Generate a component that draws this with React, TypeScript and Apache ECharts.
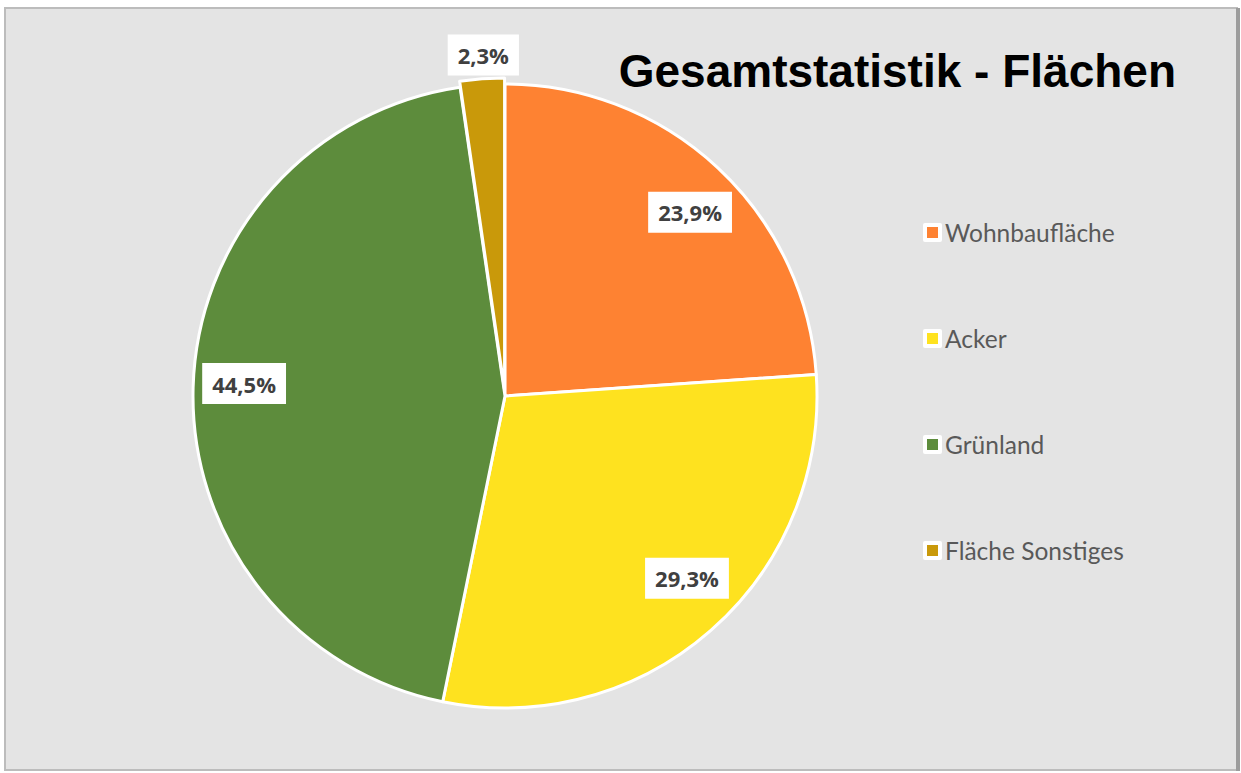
import React, { useEffect, useRef } from "react";
import * as echarts from "echarts";

const categories = ["Wohnbaufläche", "Acker", "Grünland", "Fläche Sonstiges"];
const shares = [23.9, 29.3, 44.5, 2.3];
const colors = ["#fe8232", "#fee21f", "#5d8c3c", "#c9990a"];
const explodedIndex = 3;
const titleText = "Gesamtstatistik - Flächen";
const labelOffsets = [[7, 7], [10, -14], [0, -5], [3, 0]];

const fmt = (v: number) => v.toFixed(1).replace(".", ",") + "%";

export default function App() {
  const ref = useRef<HTMLDivElement>(null);
  useEffect(() => {
    if (!ref.current) return;
    const chart = echarts.init(ref.current, null, { renderer: "svg" });
    const center = [505, 396];
    const R = 312;
    const labelStyle = {
      show: true,
      position: "inside",
      formatter: (p: any) => fmt(p.value),
      color: "#404040",
      fontFamily: "Open Sans",
      fontWeight: "bold",
      fontSize: 22,
      lineHeight: 26,
      backgroundColor: "#ffffff",
      padding: [8, 10, 7, 10],
    };
    const mainData = categories.map((name, i) => ({
      name,
      value: shares[i],
      selected: i === explodedIndex,
      itemStyle: { color: colors[i] },
    }));
    const overlayInside = categories.map((name, i) => ({
      name,
      value: shares[i],
      itemStyle: { color: "rgba(0,0,0,0)", borderWidth: 0 },
      label: { show: i !== explodedIndex, offset: labelOffsets[i] },
    }));
    const overlayOutside = categories.map((name, i) => ({
      name,
      value: shares[i],
      itemStyle: { color: "rgba(0,0,0,0)", borderWidth: 0 },
      label: { show: i === explodedIndex, offset: labelOffsets[i] },
    }));
    chart.setOption({
      animation: false,
      backgroundColor: "#ffffff",
      graphic: [
        {
          type: "rect",
          shape: { x: 5, y: 8, width: 1232, height: 762 },
          style: { fill: "#e4e4e4", stroke: "#bcbcbc", lineWidth: 2 },
          z: -10,
        },
        {
          type: "rect",
          shape: { x: 1236, y: 8, width: 4, height: 763 },
          style: { fill: "#9c9c9c" },
          z: -9,
        },
      ],
      title: {
        text: titleText,
        right: 65,
        top: 48,
        padding: 0,
        textStyle: {
          fontFamily: "Liberation Sans",
          fontWeight: "bold",
          fontSize: 46,
          color: "#000000",
        },
      },
      legend: {
        orient: "vertical",
        left: 923,
        top: 220,
        padding: 0,
        itemGap: 81,
        itemWidth: 15,
        itemHeight: 15,
        icon: "rect",
        data: categories,
        itemStyle: { borderColor: "#ffffff", borderWidth: 4 },
        textStyle: {
          fontFamily: "Lato",
          fontSize: 24.5,
          lineHeight: 24,
          color: "#595959",
        },
        selectedMode: false,
      },
      series: [
        {
          type: "pie",
          center,
          radius: [0, R],
          startAngle: 90,
          clockwise: true,
          selectedMode: "single",
          selectedOffset: 6,
          avoidLabelOverlap: false,
          itemStyle: { borderColor: "#ffffff", borderWidth: 3 },
          label: { show: false },
          labelLine: { show: false },
          emphasis: { disabled: true },
          data: mainData,
          z: 2,
        },
        {
          type: "pie",
          center,
          radius: [204, R],
          startAngle: 90,
          clockwise: true,
          silent: true,
          avoidLabelOverlap: false,
          label: labelStyle,
          labelLine: { show: false },
          emphasis: { disabled: true },
          data: overlayInside,
          z: 3,
        },
        {
          type: "pie",
          center,
          radius: [330, 348],
          startAngle: 90,
          clockwise: true,
          silent: true,
          avoidLabelOverlap: false,
          label: labelStyle,
          labelLine: { show: false },
          emphasis: { disabled: true },
          data: overlayOutside,
          z: 3,
        },
      ],
    });
    return () => chart.dispose();
  }, []);
  return (
    <div
      ref={ref}
      style={{ position: "fixed", left: 0, top: 0, width: 1241, height: 773 }}
    />
  );
}
